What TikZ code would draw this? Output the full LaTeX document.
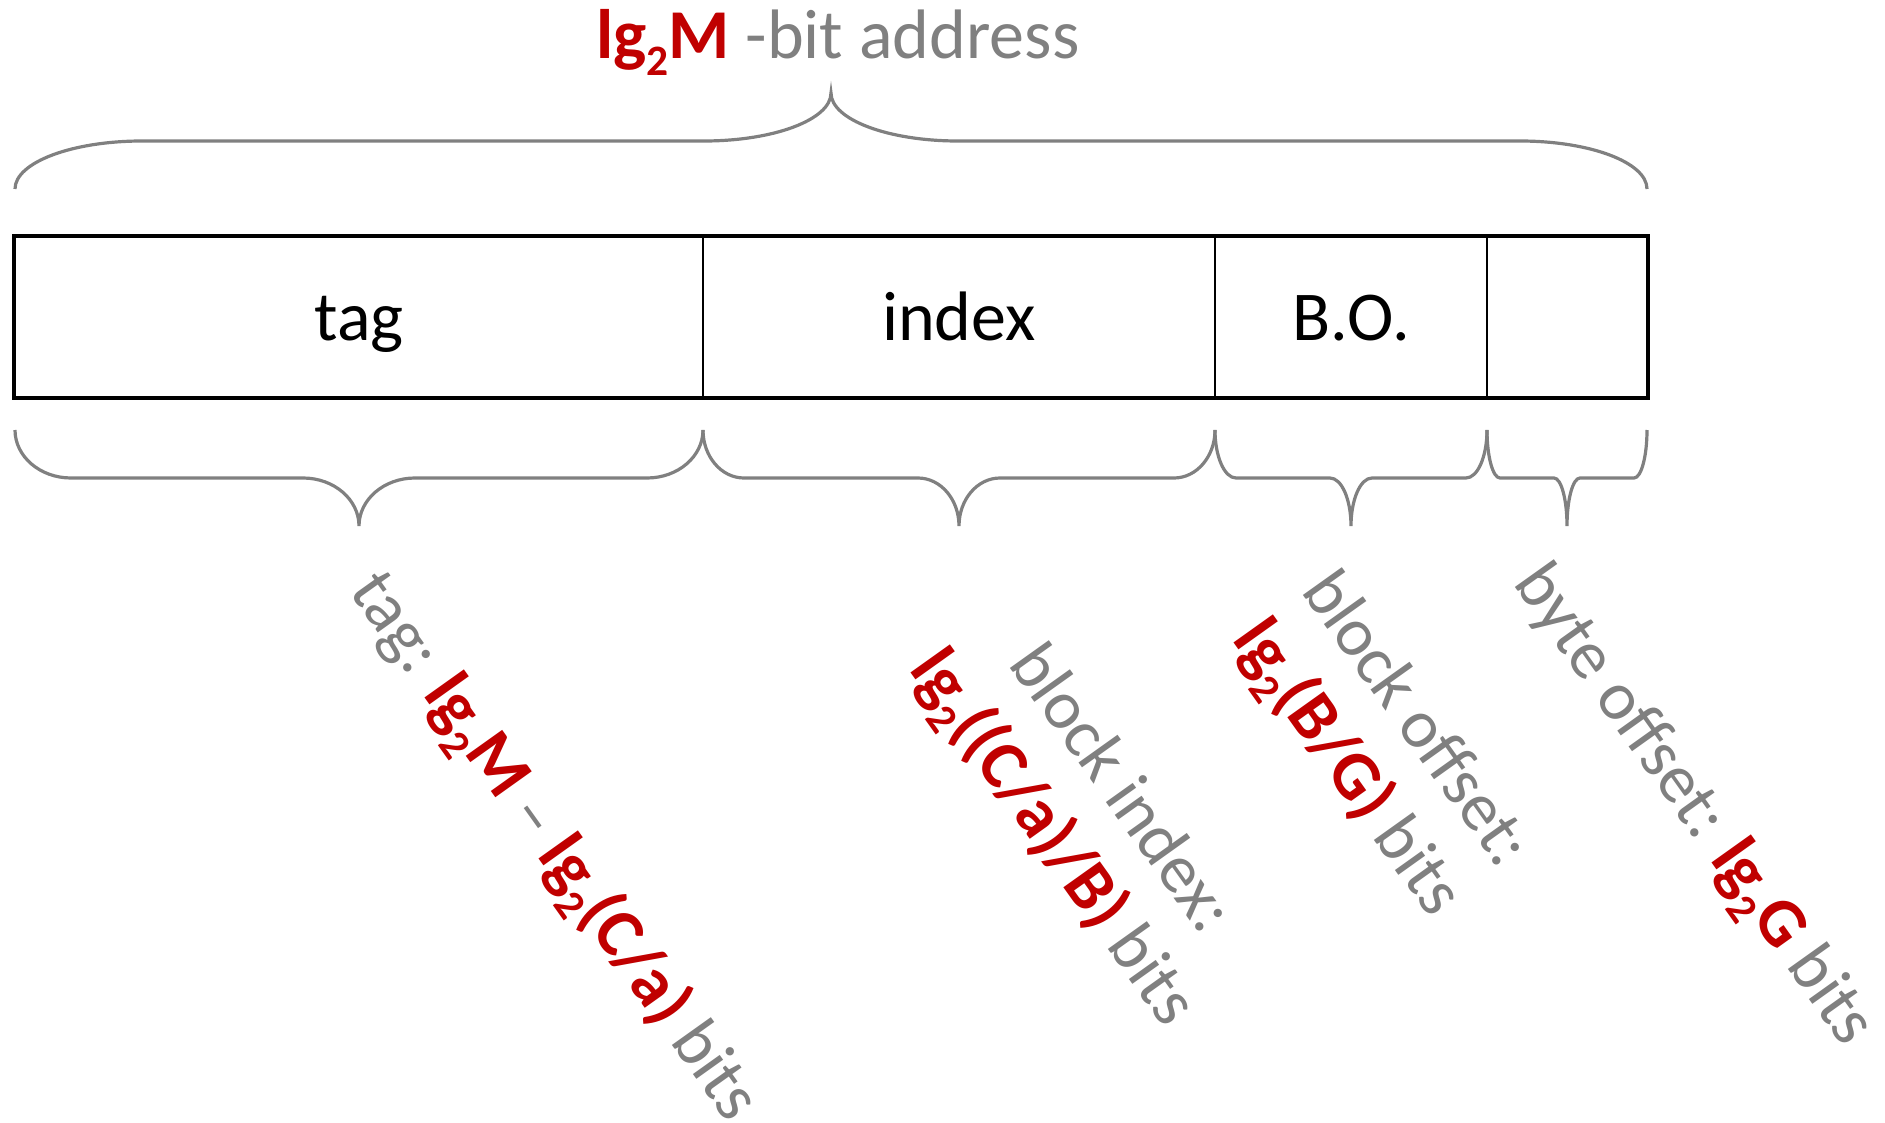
\documentclass[tikz,border=0pt]{standalone}
\usepackage{graphicx}
\usepackage{fontspec}
\setmainfont{Carlito}
\definecolor{darkred}{HTML}{C00000}
\definecolor{midgray}{HTML}{808080}
\newcommand{\lgt}{lg\raisebox{-0.23em}{\scalebox{0.62}{2}}}
\newcommand{\downbrace}[3]{%
  \draw[bracepath] (#1,-430) arc[start angle=180,end angle=270,x radius=#3,y radius=48]
    -- ({(#1+#2)/2-#3},-478) arc[start angle=90,end angle=0,x radius=#3,y radius=48]
    arc[start angle=180,end angle=90,x radius=#3,y radius=48]
    -- ({#2-#3},-478) arc[start angle=270,end angle=360,x radius=#3,y radius=48];}
\begin{document}
\begin{tikzpicture}[x=0.5pt,y=0.5pt,
  cell/.style={draw=black, line width=1.2pt, minimum height=80pt, inner sep=0pt,
    text height=24pt, text depth=0pt, font=\fontsize{35}{42}\selectfont},
  bracepath/.style={draw=midgray, line width=1.6pt},
  lbl/.style={rotate=-54.5, inner sep=0pt, align=center, text=midgray,
    font=\fontsize{34.5}{42}\selectfont}]
\useasboundingbox (0,0) rectangle (1885,-1123);
% title
\node[anchor=base west, inner sep=0pt, text=midgray, font=\fontsize{35}{42}\selectfont] (title)
  at (596,-59) {\textcolor{darkred}{\bfseries\lgt M} -bit address};
% top brace
\draw[bracepath] (15,-189) arc[start angle=180,end angle=90,x radius=127,y radius=48]
  -- (704,-141) arc[start angle=270,end angle=360,x radius=127,y radius=48]
  arc[start angle=180,end angle=270,x radius=127,y radius=48]
  -- (1520,-141) arc[start angle=90,end angle=0,x radius=127,y radius=48];
% cells
\node[cell, minimum width=344pt] (tag) at (359,-317) {tag};
\node[cell, minimum width=256pt] (index) at (959,-317) {index};
\node[cell, minimum width=136pt] (bo) at (1351,-317) {B.O.};
\node[cell, minimum width=80pt] (byte) at (1567,-317) {};
\draw[line width=1.8pt] (tag.north west) rectangle (byte.south east);
% bottom braces
\downbrace{15}{703}{56}
\downbrace{703}{1215}{41}
\downbrace{1215}{1487}{21}
\downbrace{1487}{1647}{13}
% labels
\node[lbl, anchor=base west] (taglbl) at (348,-591)
  {tag: \textcolor{darkred}{\bfseries\lgt M} – \textcolor{darkred}{\bfseries\lgt(C/a)} bits};
\node[lbl, anchor=base west] (idxlbl) at (908,-669)
  {block index:\\\textcolor{darkred}{\bfseries\lgt((C/a)/B)} bits};
\node[lbl, anchor=base west] (bolbl) at (1231,-639)
  {block offset:\\\textcolor{darkred}{\bfseries\lgt(B/G)} bits};
\node[lbl, anchor=base west] (bytelbl) at (1512,-583)
  {byte offset: \textcolor{darkred}{\bfseries\lgt G} bits};
\end{tikzpicture}
\end{document}
